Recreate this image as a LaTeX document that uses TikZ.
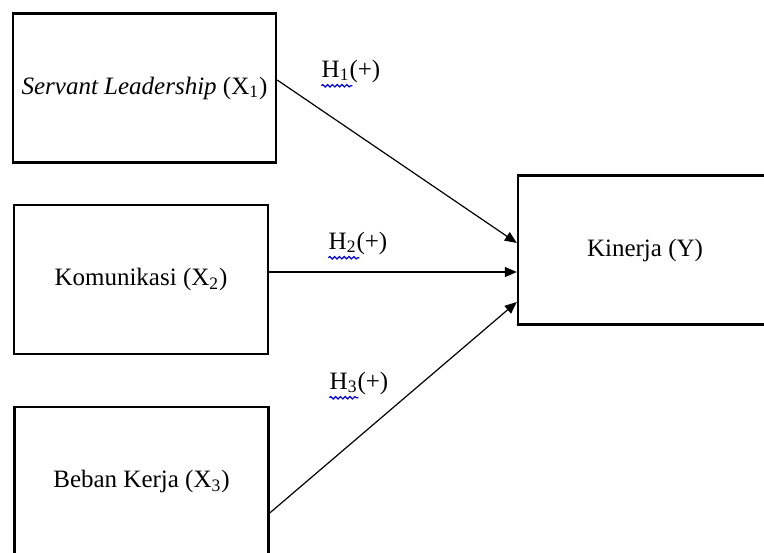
\documentclass[tikz,border=0pt]{standalone}
\usepackage{fontspec}
\setmainfont{Liberation Serif}
\usetikzlibrary{arrows.meta,decorations.pathmorphing}

\tikzset{
    varbox/.style={draw, line width=1.2pt, minimum width=127pt, minimum height=74.5pt, inner sep=0pt, font=\fontsize{12.5}{15}\selectfont},
    hyparrow/.style={-{Triangle[length=6pt, width=5pt]}, line width=0.6pt},
    hyplabel/.style={font=\fontsize{12.5}{15}\selectfont, inner sep=0pt},
    spellwave/.style={draw=blue!85!black, line width=0.6pt, decorate, decoration={snake, amplitude=0.6pt, segment length=2.4pt}}
}

\begin{document}
\begin{tikzpicture}[x=0.5pt, y=-0.5pt]
        \useasboundingbox (0, 0) rectangle (764, 552);
        \clip (0, 0) rectangle (764, 552);

        \node[varbox, minimum width=131.5pt] (x1) at (144.5, 88) {\textit{Servant Leadership} (X\textsubscript{1})};
        \node[varbox] (x2) at (141, 279.5) {Komunikasi (X\textsubscript{2})};
        \node[varbox] (x3) at (141.5, 481.5) {Beban Kerja (X\textsubscript{3})};
        \node[varbox] (y) at (645, 250) {Kinerja (Y)};

        \draw[hyparrow] ([yshift=4pt]x1.east) -- ([yshift=3.5pt]y.west);
        \draw[hyparrow] ([yshift=3.75pt]x2.east) -- ([yshift=-11pt]y.west);
        \draw[hyparrow] ([yshift=-15.75pt]x3.east) -- ([yshift=-26pt]y.west);

        \node[hyplabel] (h1) at (351, 71) {H\textsubscript{1}(+)};
        \node[hyplabel] (h2) at (358, 243) {H\textsubscript{2}(+)};
        \node[hyplabel] (h3) at (359, 383) {H\textsubscript{3}(+)};

        % spelling marks under the H labels
        \draw[spellwave] ([yshift=-1.5pt]h1.south west) -- ++(31, 0);
        \draw[spellwave] ([yshift=-1.5pt]h2.south west) -- ++(31, 0);
        \draw[spellwave] ([yshift=-1.5pt]h3.south west) -- ++(29, 0);

\end{tikzpicture}
\end{document}
